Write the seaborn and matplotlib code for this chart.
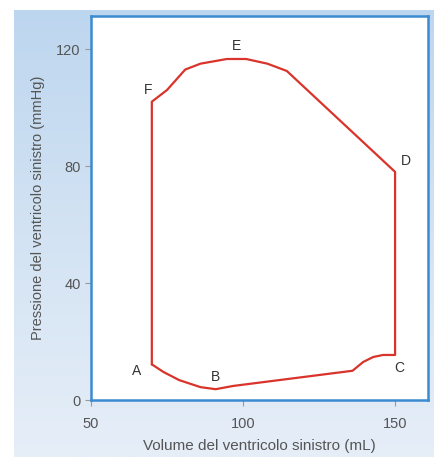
import numpy as np
import pandas as pd
import seaborn as sns
import matplotlib.pyplot as plt
from matplotlib.colors import LinearSegmentedColormap

# loop A -> B -> C -> D -> E -> F -> A
volume = [70, 73.8, 79, 86, 91, 96.7, 136, 139.5, 142.8, 146, 150,
          150, 114.4, 108, 101, 94.7, 86, 81, 75, 70, 70]
pressure = [12.2, 9.6, 6.8, 4.4, 3.7, 4.8, 10, 13, 14.7, 15.4, 15.4,
            78, 112.5, 115, 116.6, 116.6, 115, 113, 106, 102, 12.2]

point_labels = ["A", "B", "C", "D", "E", "F"]
label_x = [65, 91, 151.5, 153.5, 97.7, 68.8]
label_y = [10, 8, 11, 81.7, 121, 106]

x_ticks = [50, 100, 150]
y_ticks = [0, 40, 80, 120]

sns.set_style("white")
plt.rcParams["font.family"] = ["Liberation Sans", "DejaVu Sans"]

fig = plt.figure(figsize=(4.34, 4.57), dpi=100)
fig.patch.set_facecolor("white")

# light blue page background (gradient)
bg = fig.add_axes([14 / 434, 0, 1 - 14 / 434, 447 / 457], zorder=-1)
cmap = LinearSegmentedColormap.from_list("bg", ["#bdd6ef", "#d3e3f3", "#e6eef8"])
bg.imshow(np.linspace(0, 1, 256).reshape(-1, 1), aspect="auto", cmap=cmap,
          extent=[0, 1, 0, 1], origin="upper")
bg.axis("off")

ax = fig.add_axes([0.2097, 0.1247, 0.7763, 0.8403])
ax.set_facecolor("white")

df = pd.DataFrame({"volume": volume, "pressure": pressure})
sns.lineplot(data=df, x="volume", y="pressure", sort=False, estimator=None,
             color="#d9342b", linewidth=1.6, ax=ax)

for lab, lx, ly in zip(point_labels, label_x, label_y):
    ax.text(lx, ly, lab, ha="center", va="center", fontsize=10, color="#333333")

ax.set_xlim(50, 160.8)
ax.set_ylim(0, 131.3)
ax.set_xticks(x_ticks)
ax.set_yticks(y_ticks)
ax.tick_params(axis="both", colors="#999999", labelcolor="#555555", labelsize=10.5,
               length=4, width=0.8, direction="out")
ax.tick_params(axis="x", pad=8)
ax.tick_params(left=True, bottom=True)
for sp in ax.spines.values():
    sp.set_color("#3b8bd0")
    sp.set_linewidth(1.8)

ax.set_xlabel("Volume del ventricolo sinistro (mL)", fontsize=11, color="#555555", labelpad=6)
ax.set_ylabel("Pressione del ventricolo sinistro (mmHg)", fontsize=10.5, color="#555555", labelpad=8)

fig.savefig("out.png", dpi=100, facecolor=fig.get_facecolor())
